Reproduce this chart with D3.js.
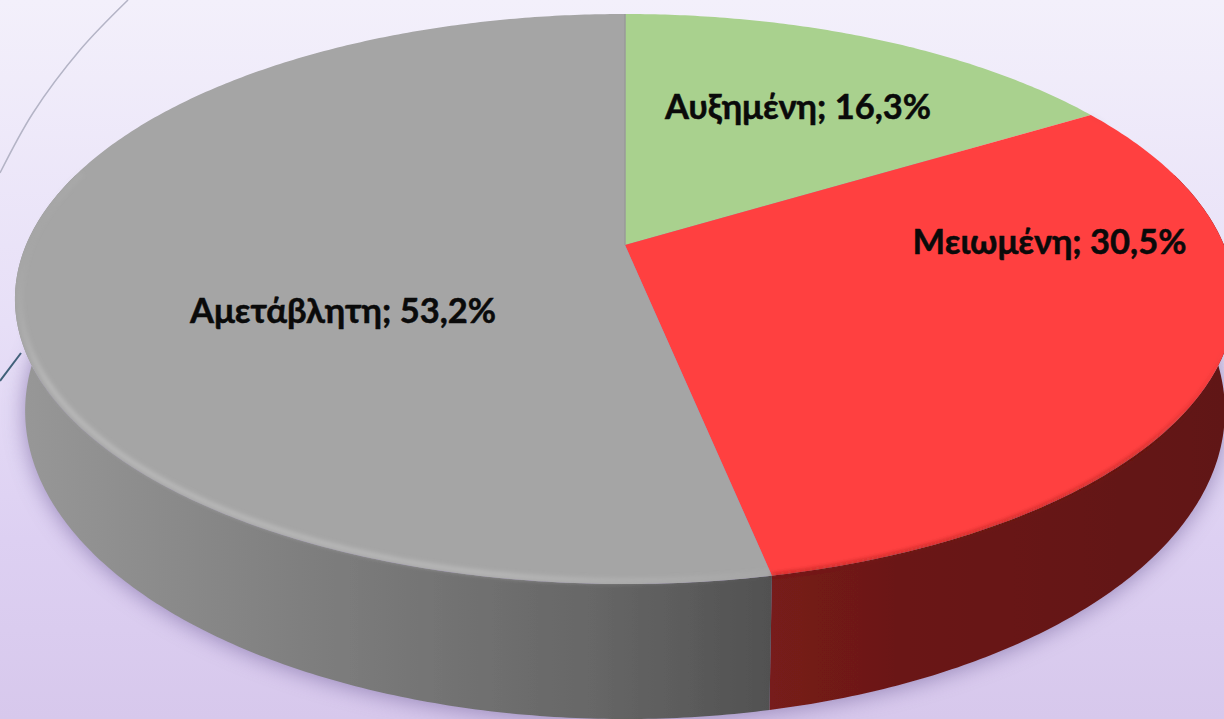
<!DOCTYPE html>
<html><head><meta charset="utf-8">
<script src="https://cdn.jsdelivr.net/npm/d3@7/dist/d3.min.js"></script>
<style>html,body{margin:0;padding:0;overflow:hidden;background:#e6def6}svg{display:block}</style>
</head><body><svg id="c" width="1224" height="719"></svg>
<script>
const categories = ["Αυξημένη", "Μειωμένη", "Αμετάβλητη"];
const values = [16.3, 30.5, 53.2];
const valueLabels = ["16,3%", "30,5%", "53,2%"];
const topColors = ["#a9d18e", "#ff4040", "#a5a5a5"];
const labelAnchors = [[798, 107], [1049.5, 242], [343, 311]];
const sideStopsGrey = [[0, "#979797"], [0.37, "#7f7f7f"], [0.77, "#666666"], [1, "#515151"]];
const sideStopsRed = [[0, "#771b1a"], [0.3, "#6a1816"], [1, "#611413"]];
const sideStopsGreen = [[0, "#5d7a4c"], [1, "#4d6a3e"]];
const bgStops = [[0, "#f3f0fb"], [0.45, "#e7dff7"], [0.75, "#ddd0f2"], [1, "#d7c8ec"]];
const lineGrey = [[128, 0], [80, 50], [33, 113], [0, 173]];
const lineTeal = [[21, 353], [0, 381]];

const W = 1224, H = 719, TAU = Math.PI * 2;
const svg = d3.select("#c");
const defs = svg.append("defs");

function gradient(id, stops, x1, y1, x2, y2) {
  const g = defs.append("linearGradient").attr("id", id).attr("gradientUnits", "userSpaceOnUse")
    .attr("x1", x1).attr("y1", y1).attr("x2", x2).attr("y2", y2);
  stops.forEach(s => {
    const st = g.append("stop").attr("offset", s[0]).attr("stop-color", s[1]);
    if (s[2] !== undefined) st.attr("stop-opacity", s[2]);
  });
}
gradient("bg", bgStops, 0, 0, 0, H);
gradient("sideGrey", sideStopsGrey, 25, 0, 770, 0);
gradient("sideRed", sideStopsRed, 770, 0, 1224, 0);
gradient("sideGreen", sideStopsGreen, 625, 0, 1224, 0);
gradient("rim", [[0, "#c0c0c0", 0.1], [0.3, "#c0c0c0", 0.7], [0.9, "#c0c0c0", 0.75], [1, "#c0c0c0", 0]], 760, 588, 30, 235);
gradient("redEdge", [[0, "#6a1816", 0.0], [0.25, "#7a1c18", 0.5], [1, "#7a1c18", 0.5]], 1224, 340, 770, 578);
const sideFills = ["url(#sideGreen)", "url(#sideRed)", "url(#sideGrey)"];

const f1 = defs.append("filter").attr("id", "blurS").attr("x", "-10%").attr("y", "-10%").attr("width", "120%").attr("height", "120%");
f1.append("feGaussianBlur").attr("stdDeviation", 11);
const f2 = defs.append("filter").attr("id", "blurR").attr("x", "-5%").attr("y", "-5%").attr("width", "110%").attr("height", "110%");
f2.append("feGaussianBlur").attr("stdDeviation", 2);
const f3 = defs.append("filter").attr("id", "soft").attr("filterUnits", "userSpaceOnUse").attr("x", 0).attr("y", 0).attr("width", W).attr("height", H);
f3.append("feGaussianBlur").attr("stdDeviation", 0.7);

svg.append("rect").attr("width", W).attr("height", H).attr("fill", "url(#bg)");

// Perspective projection of the pie's top and bottom discs
const K = 0.1895, CX = 625;
const topDisc = { a: 599, b: 274.8, cy: 245 };
const botDisc = { a: 589, b: 297, cy: 352.6 };
function project(disc, angle, r = 1) {
  const u = r * Math.sin(angle), v = -r * Math.cos(angle), d = 1 - K * v;
  return [CX + disc.a * u / d, disc.cy + disc.b * v / d];
}
function arcPts(disc, a0, a1, r = 1) {
  const n = Math.max(2, Math.ceil(Math.abs(a1 - a0) / 0.01));
  return d3.range(n + 1).map(i => project(disc, a0 + (a1 - a0) * i / n, r));
}
const line = d3.line();
const pie = d3.pie().sort(null).value(d => d)(values);

// decorative background lines
svg.append("path").attr("d", d3.line().curve(d3.curveCatmullRom)(lineGrey))
  .attr("fill", "none").attr("stroke", "#b4b4c6").attr("stroke-width", 1.5);
svg.append("path").attr("d", line(lineTeal)).attr("fill", "none").attr("stroke", "#3f6078").attr("stroke-width", 2);

// soft shadow beneath the base
svg.append("path").attr("d", line(arcPts(botDisc, 0, TAU)) + "Z")
  .attr("fill", "#8676aa").attr("opacity", 0.8).attr("filter", "url(#blurS)")
  .attr("transform", "translate(0,2)");

const chart = svg.append("g").attr("filter", "url(#soft)");

// side walls: only the near part of the rim can be seen
const frontA = 1.3, frontB = TAU - 1.3;
const sides = pie.map((d, i) => ({ a0: Math.max(d.startAngle, frontA), a1: Math.min(d.endAngle, frontB), i })).filter(d => d.a1 > d.a0);
chart.selectAll("path.side").data(sides).join("path").attr("class", "side")
  .attr("fill", d => sideFills[d.i])
  .attr("d", d => line(arcPts(topDisc, d.a0, d.a1).concat(arcPts(botDisc, d.a1, d.a0))) + "Z");

// top faces
chart.selectAll("path.top").data(pie).join("path").attr("class", "top")
  .attr("fill", (d, i) => topColors[i])
  .attr("d", d => line([project(topDisc, 0, 0)].concat(arcPts(topDisc, d.startAngle, d.endAngle))) + "Z");

// bevel highlight on the grey rim, dark soft edge on the red rim
chart.append("path").attr("d", line(arcPts(topDisc, pie[2].startAngle, pie[2].startAngle + 2.05, 0.992)))
  .attr("fill", "none").attr("stroke", "url(#rim)").attr("stroke-width", 5).attr("filter", "url(#blurR)");
chart.append("path").attr("d", line(arcPts(topDisc, pie[1].startAngle, pie[1].endAngle, 0.999)))
  .attr("fill", "none").attr("stroke", "url(#redEdge)").attr("stroke-width", 3).attr("filter", "url(#blurR)");
// subtle shade on the grey face along the green boundary
chart.append("path").attr("d", line([project(topDisc, 0, 0), project(topDisc, 0, 1)]))
  .attr("stroke", "#9a9a9a").attr("stroke-width", 1.5).attr("fill", "none");

// labels
svg.selectAll("text.lbl").data(pie).join("text").attr("class", "lbl")
  .attr("x", (d, i) => labelAnchors[i][0]).attr("y", (d, i) => labelAnchors[i][1] + 12)
  .attr("text-anchor", "middle").attr("font-family", "Lato, 'Open Sans', sans-serif")
  .attr("font-weight", 700).attr("font-size", 34.5).attr("fill", "#0a0a0a")
  .attr("stroke", "#0a0a0a").attr("stroke-width", 0.5)
  .text((d, i) => `${categories[i]}; ${valueLabels[i]}`);
</script></body></html>
